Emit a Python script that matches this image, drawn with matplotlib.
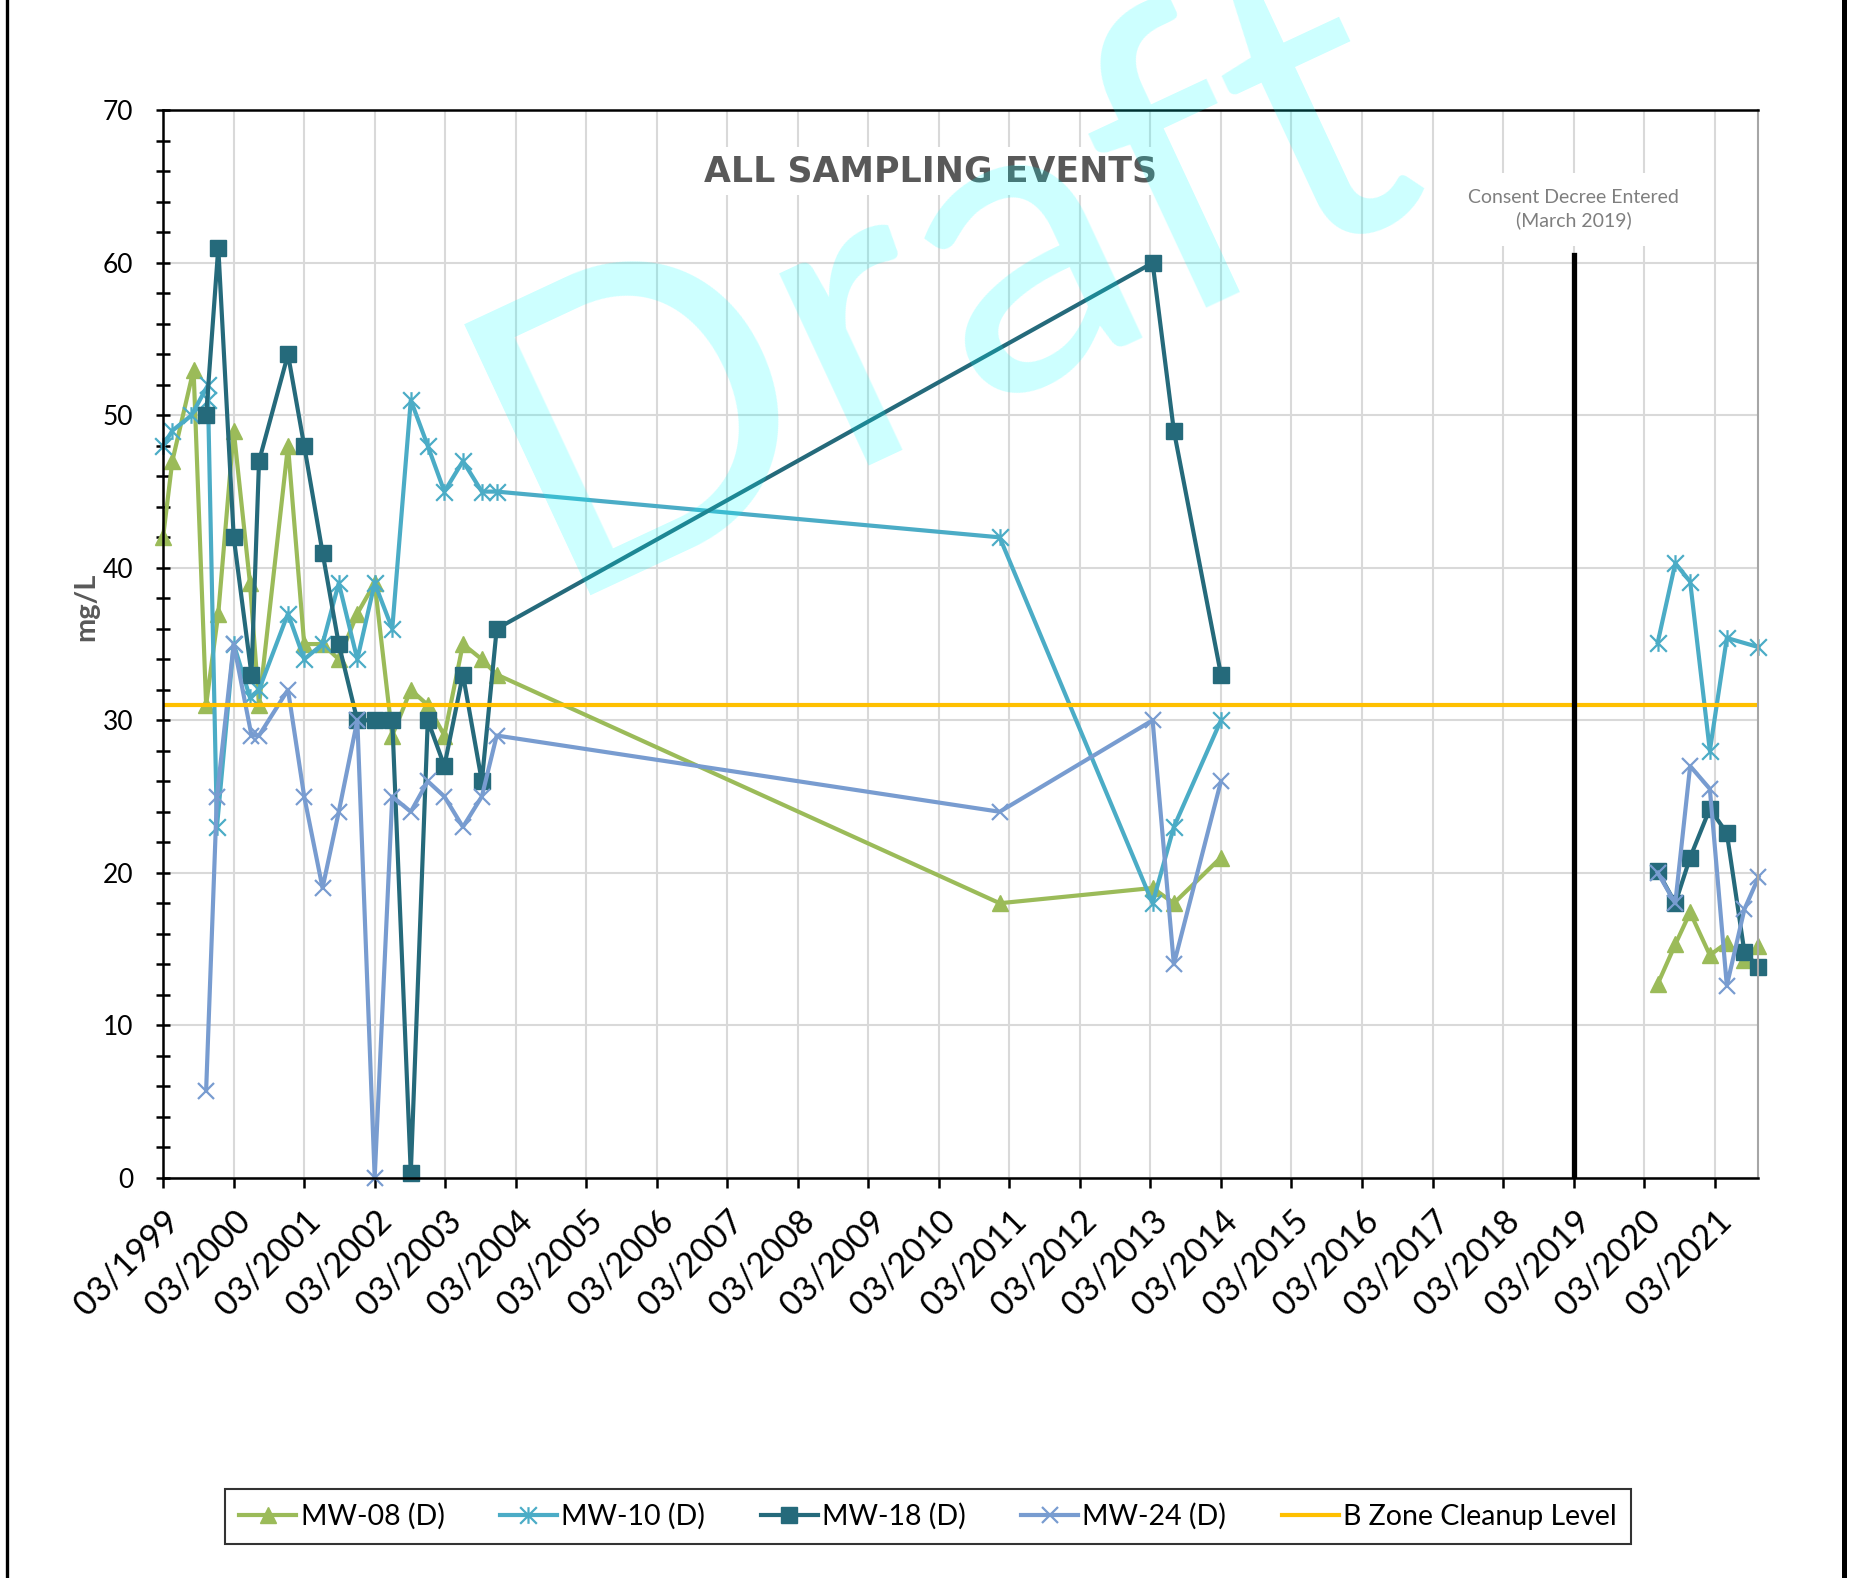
import numpy as np
import pandas as pd
import matplotlib
matplotlib.use('Agg')
import matplotlib.pyplot as plt
from matplotlib.path import Path
from matplotlib.lines import Line2D

plt.rcParams['font.family'] = ['Lato', 'DejaVu Sans']

# ---- data ----
mw08_dates = ['1999-03-01', '1999-04-18', '1999-08-06', '1999-10-10', '1999-12-12',
              '2000-03-01', '2000-05-24', '2000-07-10', '2000-12-07', '2001-03-01',
              '2001-06-04', '2001-08-27', '2001-12-01', '2002-03-01', '2002-05-31',
              '2002-09-04', '2002-12-01', '2003-02-25', '2003-06-01', '2003-09-07',
              '2003-11-23', '2011-01-10', '2013-03-12', '2013-06-30', '2014-03-01',
              '2020-05-10', '2020-08-09', '2020-10-25', '2021-02-04', '2021-05-03',
              '2021-08-02', '2021-10-14']
mw08 = [42, 47, 53, 31, 37, 49, 39, 31, 48, 35, 35, 34, 37, 39, 29, 32, 31, 29, 35, 34,
        33, 18, 19, 18, 21, 12.7, 15.3, 17.4, 14.6, 15.4, 14.3, 15.2]

mw10_dates = ['1999-03-01', '1999-04-18', '1999-07-26', '1999-10-20', '1999-10-20',
              '1999-12-05', '2000-03-01', '2000-05-24', '2000-07-10', '2000-12-07',
              '2001-03-01', '2001-06-04', '2001-08-27', '2001-12-01', '2002-03-01',
              '2002-05-31', '2002-09-04', '2002-12-01', '2003-02-25', '2003-06-01',
              '2003-09-07', '2003-11-23', '2011-01-10', '2013-03-12', '2013-06-30',
              '2014-03-01', '2020-05-10', '2020-08-09', '2020-10-25', '2021-02-04',
              '2021-05-03', '2021-10-14']
mw10 = [48, 49, 50, 52, 51, 23, 35, 31.5, 32, 37, 34, 35, 39, 34, 39, 36, 51, 48, 45, 47,
        45, 45, 42, 18, 23, 30, 35.1, 40.3, 39.1, 28, 35.4, 34.8]

mw18_dates = ['1999-10-10', '1999-12-12', '2000-03-01', '2000-06-01', '2000-07-10',
              '2000-12-07', '2001-03-01', '2001-06-04', '2001-08-27', '2001-12-01',
              '2002-03-01', '2002-05-31', '2002-09-04', '2002-12-01', '2003-02-25',
              '2003-06-01', '2003-09-07', '2003-11-23', '2013-03-12', '2013-06-30',
              '2014-03-01', '2020-05-10', '2020-08-09', '2020-10-25', '2021-02-04',
              '2021-05-03', '2021-08-02', '2021-10-14']
mw18 = [50, 61, 42, 33, 47, 54, 48, 41, 35, 30, 30, 30, 0.3, 30, 27, 33, 26, 36, 60, 49,
        33, 20.1, 18, 21, 24.2, 22.6, 14.8, 13.8]

mw24_dates = ['1999-10-10', '1999-12-05', '2000-03-01', '2000-06-01', '2000-07-10',
              '2000-12-07', '2001-03-01', '2001-06-04', '2001-08-27', '2001-12-01',
              '2002-03-01', '2002-05-31', '2002-09-04', '2002-12-01', '2003-02-25',
              '2003-06-01', '2003-09-07', '2003-11-23', '2011-01-10', '2013-03-12',
              '2013-06-30', '2014-03-01', '2020-05-10', '2020-08-09', '2020-10-25',
              '2021-02-04', '2021-05-03', '2021-08-02', '2021-10-14']
mw24 = [5.7, 25, 35, 29, 29, 32, 25, 19, 24, 30, 0, 25, 24, 26, 25, 23, 25, 29, 24, 30,
        14, 26, 20, 18, 27, 25.5, 12.6, 17.6, 19.7]

cleanup_level = 31
consent_date = pd.Timestamp('2019-03-01')
consent_top = 60.5
tick_years = list(range(1999, 2022))

# star marker like Excel's (x plus vertical bar)
star = Path([(-0.5, -0.5), (0.5, 0.5), (-0.5, 0.5), (0.5, -0.5), (0, -0.5), (0, 0.5)],
            [Path.MOVETO, Path.LINETO, Path.MOVETO, Path.LINETO, Path.MOVETO, Path.LINETO])

series = [
    ('MW-08 (D)', mw08_dates, mw08, dict(color='#9BBB59', marker='^', ms=12, mec='#9BBB59')),
    ('MW-10 (D)', mw10_dates, mw10, dict(color='#4BACC6', marker=star, ms=12, mew=1.6)),
    ('MW-18 (D)', mw18_dates, mw18, dict(color='#256A7B', marker='s', ms=12, mec='#256A7B')),
    ('MW-24 (D)', mw24_dates, mw24, dict(color='#789CD0', marker='x', ms=12, mew=1.6)),
]

fig = plt.figure(figsize=(18.53, 15.78), dpi=100)
ax = fig.add_axes([0.088, 0.2537, 0.861, 0.6763])

all_dates = pd.to_datetime(mw08_dates + mw10_dates + mw18_dates + mw24_dates)
x0 = pd.Timestamp('1999-03-01')
x1 = all_dates.max()

for name, dates, vals, st in series:
    d = pd.to_datetime(dates)
    v = np.array(vals, dtype=float)
    before = d < consent_date
    ax.plot(d[before], v[before], lw=3, label=name, clip_on=False, **st)
    ax.plot(d[~before], v[~before], lw=3, clip_on=False, **st)

ax.plot([x0, x1], [cleanup_level, cleanup_level], color='#FFC000', lw=3,
        label='B Zone Cleanup Level')
ax.plot([consent_date, consent_date], [0, consent_top], color='black', lw=3.8)

ax.set_xlim(x0, x1)
ax.set_ylim(0, 70)

ticks = pd.to_datetime([f'{y}-03-01' for y in tick_years])
ax.set_xticks(ticks)
ax.set_xticklabels([t.strftime('%m/%Y') for t in ticks], rotation=45, ha='right',
                   rotation_mode='anchor')
ax.set_yticks(np.arange(0, 71, 10))
ax.set_yticks(np.arange(0, 71, 2), minor=True)

ax.tick_params(axis='x', direction='out', length=7, width=1.8, labelsize=24.5, pad=12)
ax.tick_params(axis='y', which='both', direction='inout', length=10.5, width=1.8,
               labelsize=19, pad=16)

ax.set_axisbelow(True)
ax.grid(True, which='major', color='#D9D9D9', lw=1.5)

for s in ['left', 'bottom', 'top']:
    ax.spines[s].set_linewidth(1.8)
    ax.spines[s].set_color('black')
ax.spines['right'].set_color('#A6A6A6')
ax.spines['right'].set_linewidth(1.5)

ax.set_ylabel('mg/L', fontsize=21, fontweight='bold', color='#595959')
ax.yaxis.set_label_coords(-0.04, 0.535)

ax.text(0.481, 0.943, 'ALL SAMPLING EVENTS', transform=ax.transAxes, ha='center',
        va='center', fontsize=25, fontweight='bold', color='#595959',
        family=['DejaVu Sans'], bbox=dict(fc='white', ec='none', pad=5))

ax.text(consent_date, 63.5, 'Consent Decree Entered\n(March 2019)', ha='center',
        va='center', fontsize=14, color='#7F7F7F', linespacing=1.35,
        bbox=dict(fc='white', ec='none', pad=12))

leg = fig.legend(loc='center', bbox_to_anchor=(0.5008, 0.039), ncol=5, fontsize=20.5,
                 frameon=True, fancybox=False, edgecolor='black', handlelength=2.0,
                 handletextpad=0.15, columnspacing=1.95, borderpad=0.5, numpoints=1)
leg.get_frame().set_linewidth(1.5)

# watermark
fig.text(0.298, 0.623, 'Draft', fontsize=300, color='#00FFFF', alpha=0.2, rotation=25,
         rotation_mode='anchor', ha='left', va='baseline', zorder=10)

# page border
fig.add_artist(Line2D([6.7 / 1853] * 2, [0, 1], transform=fig.transFigure, color='black', lw=2.4))
fig.add_artist(Line2D([1843.5 / 1853] * 2, [0, 1], transform=fig.transFigure, color='black', lw=3.6))

fig.savefig('out.png', dpi=100)
